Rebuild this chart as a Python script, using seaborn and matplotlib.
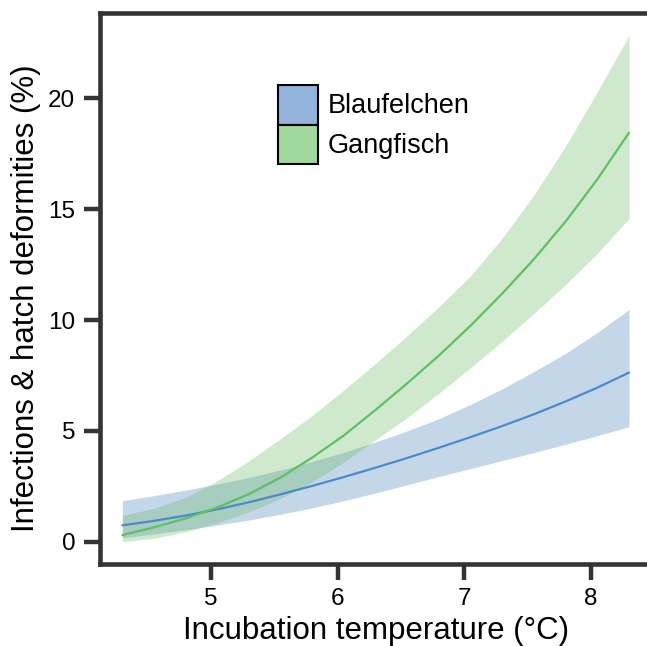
import matplotlib
matplotlib.use("Agg")
import matplotlib.pyplot as plt
from matplotlib.patches import Patch
import numpy as np
import pandas as pd
import seaborn as sns

# ---- data ----
temperature = [4.3, 4.55, 4.8, 5.05, 5.3, 5.55, 5.8, 6.05, 6.3, 6.55, 6.8,
               7.05, 7.3, 7.55, 7.8, 8.05, 8.3]

blau_fit = [0.74, 0.94, 1.18, 1.46, 1.78, 2.14, 2.52, 2.92, 3.34, 3.78, 4.24,
            4.72, 5.22, 5.75, 6.33, 6.95, 7.63]
blau_upper = [1.85, 2.08, 2.33, 2.6, 2.9, 3.24, 3.62, 4.04, 4.5, 5.0, 5.55,
              6.2, 6.9, 7.68, 8.5, 9.44, 10.47]
blau_lower = [0.18, 0.35, 0.54, 0.75, 0.98, 1.24, 1.53, 1.85, 2.2, 2.57, 2.94,
              3.3, 3.66, 4.02, 4.4, 4.78, 5.19]

gang_fit = [0.3, 0.65, 1.05, 1.55, 2.15, 2.9, 3.8, 4.8, 5.95, 7.15, 8.4,
            9.75, 11.2, 12.75, 14.45, 16.35, 18.45]
gang_upper = [1.2, 1.5, 2.0, 2.75, 3.65, 4.65, 5.7, 6.85, 8.05, 9.3, 10.6,
              12.0, 13.7, 15.65, 17.85, 20.3, 22.84]
gang_lower = [0.0, 0.15, 0.45, 0.85, 1.35, 1.95, 2.7, 3.6, 4.6, 5.6, 6.7,
              7.85, 9.05, 10.3, 11.6, 13.0, 14.58]

species = ["Blaufelchen", "Gangfisch"]
x_ticks = [5, 6, 7, 8]
y_ticks = [0, 5, 10, 15, 20]

# ---- styling ----
sns.set_style("white")
plt.rcParams["font.family"] = ["Liberation Sans", "DejaVu Sans"]
plt.rcParams["text.color"] = "black"
plt.rcParams["axes.labelcolor"] = "black"

line_colors = {"Blaufelchen": "#4d8ac9", "Gangfisch": "#5dc064"}
band_colors = {"Blaufelchen": (62/255, 125/255, 185/255),
               "Gangfisch": (98/255, 185/255, 92/255)}
legend_colors = {"Blaufelchen": "#92b4dc", "Gangfisch": "#a0d99d"}
spine_color = "#333333"

df = pd.DataFrame({
    "temp": temperature * 2,
    "value": blau_fit + gang_fit,
    "species": ["Blaufelchen"] * len(temperature) + ["Gangfisch"] * len(temperature),
})
bands = {"Blaufelchen": (blau_lower, blau_upper),
         "Gangfisch": (gang_lower, gang_upper)}

fig = plt.figure(figsize=(6.47, 6.46), dpi=100)
right_edge = 1.01
ax = fig.add_axes([0.1538, 0.1269, right_edge - 0.1538, 0.9799 - 0.1269])

for sp in species:
    lo, hi = bands[sp]
    ax.fill_between(temperature, lo, hi, color=band_colors[sp], alpha=0.3,
                    linewidth=0, zorder=1)
    sns.lineplot(data=df[df["species"] == sp], x="temp", y="value",
                 color=line_colors[sp], linewidth=1.6, ax=ax, zorder=2,
                 legend=False)

px_per_unit_x = 126.67
ax.set_xlim(5 - (211 - 99.5) / px_per_unit_x,
            5 + (right_edge * 647 - 211) / px_per_unit_x)
ax.set_ylim(-1.006, 23.85)
ax.set_xticks(x_ticks)
ax.set_yticks(y_ticks)

for side in ["left", "bottom", "top", "right"]:
    ax.spines[side].set_color(spine_color)
    ax.spines[side].set_linewidth(3.3)
ax.tick_params(axis="both", which="major", length=11.5, width=3.2,
               color=spine_color, labelsize=17.5, labelcolor="black", pad=6,
               direction="out", left=True, bottom=True)

ax.set_xlabel("Incubation temperature (°C)", fontsize=22.5, labelpad=4)
ax.set_ylabel("Infections & hatch deformities (%)", fontsize=22.5, labelpad=5)
ax.yaxis.label.set_y(0.483)

handles = [Patch(facecolor=legend_colors[sp], edgecolor="black", linewidth=1.5,
                 label=sp) for sp in species]
leg = fig.legend(handles=handles, loc="upper left",
                 bbox_to_anchor=(278 / 647, 1 - 85 / 646),
                 frameon=False, fontsize=19.5, handlelength=1.46,
                 handleheight=1.87, labelspacing=0.0, handletextpad=0.37,
                 borderpad=0, borderaxespad=0)

fig.savefig("out.png", dpi=100)
